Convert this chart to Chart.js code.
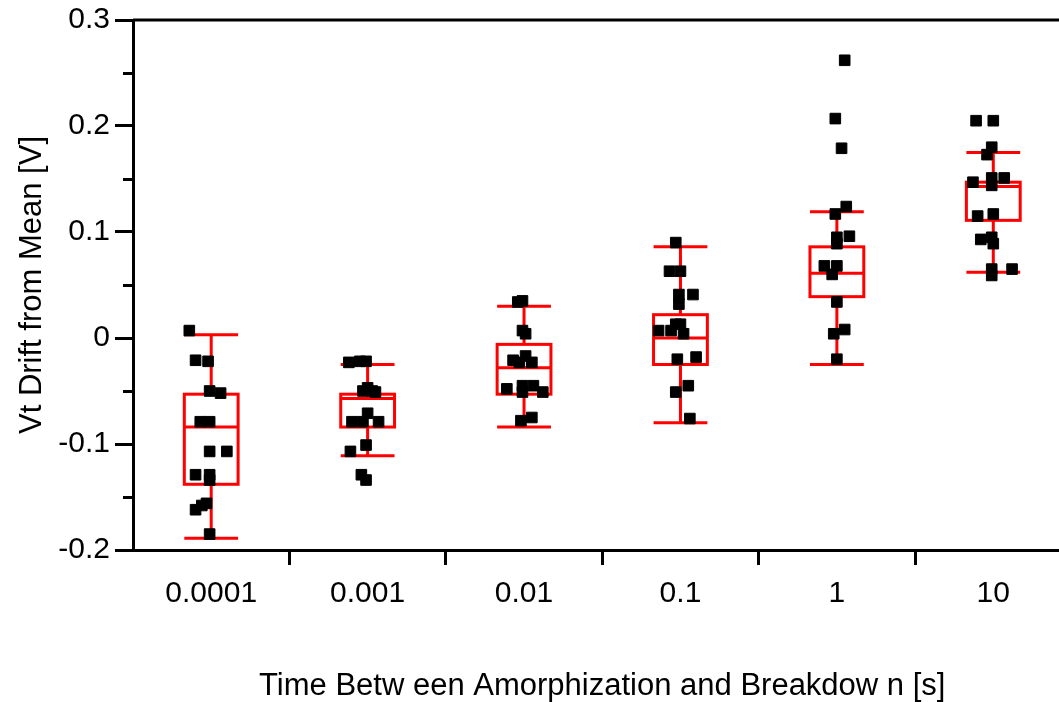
<!DOCTYPE html>
<html>
<head>
<meta charset="utf-8">
<script src="https://cdn.jsdelivr.net/npm/chart.js@4/dist/chart.umd.min.js"></script>
<style>
  html, body { margin: 0; padding: 0; background: #fff; overflow: hidden; }
  #wrap { width: 1080px; height: 702px; }
</style>
</head>
<body>
<div id="wrap"><canvas id="chart"></canvas></div>
<script>
// categories (time between amorphization and breakdown, s)
const categories = ["0.0001", "0.001", "0.01", "0.1", "1", "10"];

// box statistics per category
const whiskerLow = [-0.189, -0.111, -0.084, -0.080, -0.025, 0.062];
const quartile1 = [-0.138, -0.084, -0.053, -0.025, 0.039, 0.111];
const medians = [-0.084, -0.057, -0.028, 0.000, 0.061, 0.143];
const quartile3 = [-0.053, -0.053, -0.006, 0.022, 0.086, 0.147];
const whiskerHigh = [0.003, -0.025, 0.030, 0.086, 0.119, 0.175];

// individual Vt drift values, one array per category
const drift0 = [0.007, -0.021, -0.022, -0.050, -0.052, -0.079, -0.079, -0.107, -0.107, -0.129, -0.129, -0.134, -0.156, -0.158, -0.162, -0.185];
const drift1 = [-0.023, -0.022, -0.022, -0.047, -0.050, -0.050, -0.051, -0.071, -0.079, -0.079, -0.079, -0.101, -0.107, -0.129, -0.134];
const drift2 = [0.034, 0.035, 0.007, 0.004, -0.021, -0.017, -0.023, -0.023, -0.048, -0.045, -0.045, -0.051, -0.051, -0.078, -0.075];
const drift3 = [0.090, 0.063, 0.063, 0.041, 0.041, 0.032, 0.013, 0.013, 0.007, 0.007, 0.004, -0.020, -0.018, -0.045, -0.051, -0.076];
const drift4 = [0.262, 0.207, 0.179, 0.124, 0.117, 0.095, 0.096, 0.089, 0.068, 0.068, 0.060, 0.034, 0.004, 0.008, -0.020];
const drift5 = [0.205, 0.205, 0.180, 0.173, 0.147, 0.151, 0.151, 0.144, 0.115, 0.117, 0.093, 0.095, 0.089, 0.065, 0.065, 0.059];

// horizontal jitter of each point, in category widths
const jitter0 = [-0.14, -0.10, -0.02, -0.01, 0.06, -0.07, -0.01, -0.01, 0.10, -0.10, -0.01, -0.01, -0.03, -0.06, -0.10, -0.01];
const jitter1 = [-0.12, -0.05, -0.01, 0.00, -0.03, 0.03, 0.05, 0.00, -0.10, -0.03, 0.07, -0.01, -0.11, -0.04, -0.01];
const jitter2 = [-0.04, -0.01, -0.01, 0.01, -0.07, 0.01, 0.05, -0.03, -0.11, -0.01, 0.06, -0.01, 0.12, -0.02, 0.05];
const jitter3 = [-0.03, -0.07, 0.00, -0.01, 0.08, -0.01, -0.03, 0.00, -0.14, -0.06, 0.02, -0.02, 0.10, 0.05, -0.03, 0.06];
const jitter4 = [0.05, -0.01, 0.03, 0.06, -0.01, 0.00, 0.08, 0.00, -0.08, 0.00, -0.03, 0.00, -0.02, 0.05, 0.00];
const jitter5 = [-0.11, 0.00, -0.01, -0.04, -0.13, -0.01, 0.07, -0.01, -0.10, 0.00, -0.08, -0.01, 0.00, -0.01, 0.12, -0.01];

const yTicks = [-0.2, -0.1, 0, 0.1, 0.2, 0.3];
const yTickLabels = ["-0.2", "-0.1", "0", "0.1", "0.2", "0.3"];
const yMinorTicks = [-0.15, -0.05, 0.05, 0.15, 0.25];

const drifts = [drift0, drift1, drift2, drift3, drift4, drift5];
const jitters = [jitter0, jitter1, jitter2, jitter3, jitter4, jitter5];

const points = [];
drifts.forEach((vals, i) => {
  vals.forEach((v, k) => points.push({ x: i + jitters[i][k], y: v }));
});

const FONT = "'Liberation Sans', Arial, sans-serif";
const BOX_HALF = 0.172;

// draws the red box plots, minor y ticks and the top frame line
const boxPlot = {
  id: "boxPlot",
  beforeDatasetsDraw(chart) {
    const ctx = chart.ctx;
    const xs = chart.scales.xj;
    const ys = chart.scales.y;
    ctx.save();
    ctx.strokeStyle = "#ff0000";
    ctx.lineWidth = 3;
    categories.forEach((c, i) => {
      const xl = xs.getPixelForValue(i - BOX_HALF);
      const xr = xs.getPixelForValue(i + BOX_HALF);
      const xc = xs.getPixelForValue(i);
      const lo = ys.getPixelForValue(whiskerLow[i]);
      const q1 = ys.getPixelForValue(quartile1[i]);
      const md = ys.getPixelForValue(medians[i]);
      const q3 = ys.getPixelForValue(quartile3[i]);
      const hi = ys.getPixelForValue(whiskerHigh[i]);
      ctx.beginPath();
      ctx.moveTo(xc, hi); ctx.lineTo(xc, q3);
      ctx.moveTo(xc, q1); ctx.lineTo(xc, lo);
      ctx.moveTo(xl, hi); ctx.lineTo(xr, hi);
      ctx.moveTo(xl, lo); ctx.lineTo(xr, lo);
      ctx.moveTo(xl, md); ctx.lineTo(xr, md);
      ctx.stroke();
      ctx.strokeRect(xl, q3, xr - xl, q1 - q3);
    });
    ctx.restore();
  },
  afterDraw(chart) {
    const ctx = chart.ctx;
    const area = chart.chartArea;
    const ys = chart.scales.y;
    ctx.save();
    ctx.strokeStyle = "#000";
    ctx.lineWidth = 3;
    ctx.beginPath();
    ctx.moveTo(area.left, area.top);
    ctx.lineTo(area.right, area.top);
    yMinorTicks.forEach(v => {
      const py = Math.round(ys.getPixelForValue(v)) + 0.5;
      ctx.moveTo(area.left - 10, py);
      ctx.lineTo(area.left, py);
    });
    ctx.stroke();
    ctx.restore();
  }
};

new Chart(document.getElementById("chart"), {
  type: "scatter",
  data: {
    datasets: [{
      data: points,
      xAxisID: "xj",
      yAxisID: "y",
      pointStyle: "rect",
      pointRadius: 7.5,
      pointHoverRadius: 7.5,
      backgroundColor: "#000",
      borderColor: "#000",
      borderWidth: 1
    }]
  },
  options: {
    responsive: true,
    maintainAspectRatio: false,
    animation: false,
    layout: { padding: { top: 19, right: 5, left: 0, bottom: 0 } },
    plugins: { legend: { display: false }, tooltip: { enabled: false } },
    scales: {
      x: {
        type: "category",
        labels: categories,
        position: "bottom",
        offset: true,
        afterFit: s => { s.height = 152; },
        grid: {
          offset: true,
          drawOnChartArea: false,
          drawTicks: true,
          tickLength: 15,
          tickWidth: 3,
          tickColor: c => (c.index === 0 ? "rgba(0,0,0,0)" : "#000")
        },
        border: { display: true, color: "#000", width: 3 },
        ticks: { color: "#000", padding: 11, font: { family: FONT, size: 30 } },
        title: {
          display: true,
          text: "Time Betw een Amorphization and Breakdow n [s]",
          color: "#000",
          padding: { top: 0, bottom: 0 },
          font: { family: FONT, size: 31, lineHeight: 1 }
        }
      },
      xj: {
        type: "linear",
        display: false,
        min: -0.5,
        max: 5.5
      },
      y: {
        type: "linear",
        position: "left",
        min: -0.2,
        max: 0.3,
        afterFit: s => { s.width = 133; },
        afterBuildTicks: s => { s.ticks = yTicks.map(v => ({ value: v })); },
        grid: {
          drawOnChartArea: false,
          drawTicks: true,
          tickLength: 18,
          tickWidth: 3,
          tickColor: "#000"
        },
        border: { display: true, color: "#000", width: 3 },
        ticks: {
          color: "#000",
          padding: 5,
          font: { family: FONT, size: 30, lineHeight: 1 },
          callback: v => yTickLabels[yTicks.findIndex(t => Math.abs(t - v) < 1e-9)]
        },
        title: {
          display: true,
          text: "Vt Drift from Mean [V]",
          color: "#000",
          padding: { top: 17, bottom: 0 },
          font: { family: FONT, size: 31, lineHeight: 1 }
        }
      }
    }
  },
  plugins: [boxPlot]
});
</script>
</body>
</html>
